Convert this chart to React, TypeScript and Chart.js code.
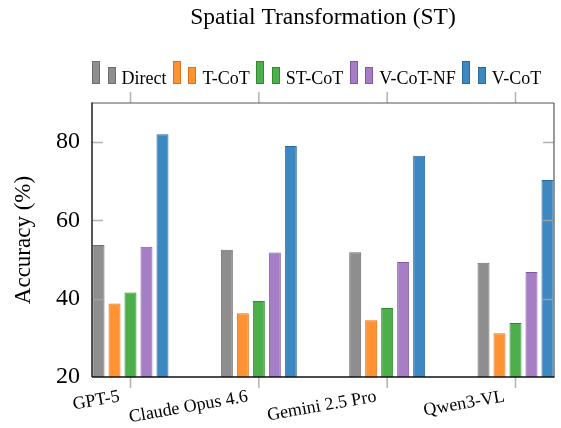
import React, { useEffect, useRef } from 'react';
import { Chart, registerables } from 'chart.js';

Chart.register(...registerables);

const categories = ['GPT-5', 'Claude Opus 4.6', 'Gemini 2.5 Pro', 'Qwen3-VL'];
const seriesNames = ['Direct', 'T-CoT', 'ST-CoT', 'V-CoT-NF', 'V-CoT'];
const direct = [53.7, 52.5, 51.9, 49.2];
const tCoT = [38.8, 36.3, 34.5, 31.2];
const stCoT = [41.6, 39.4, 37.6, 33.8];
const vCoTNF = [53.3, 51.8, 49.4, 46.8];
const vCoT = [82.0, 79.0, 76.5, 70.3];
const yTicks = [20, 40, 60, 80];
const yMin = 20;
const yMax = 90;
const titleText = 'Spatial Transformation (ST)';
const yTitle = 'Accuracy (%)';

const fills = ['#8e8e8e', '#ff9233', '#4caf4c', '#a67ec6', '#3d88c0'];
const borders = ['#6e6e6e', '#e07012', '#2e8b2e', '#7f57a3', '#2a6a9e'];

const FONT = "'Liberation Serif', 'Times New Roman', serif";

const framePlugin = {
  id: 'frame',
  afterDatasetsDraw(chart: any) {
    const { ctx, chartArea: a, scales } = chart;
    const x = scales.x;
    const y = scales.y;
    const line = (x1: number, y1: number, x2: number, y2: number) => {
      ctx.beginPath();
      ctx.moveTo(x1, y1);
      ctx.lineTo(x2, y2);
      ctx.stroke();
    };
    ctx.save();
    ctx.strokeStyle = 'rgba(165,165,165,0.85)';
    ctx.lineWidth = 1.5;
    yTicks.forEach((v) => {
      if (v === yMin) return;
      const py = Math.round(y.getPixelForValue(v)) + 0.5;
      line(a.left, py, a.left + 11, py);
      line(a.right, py, a.right - 11, py);
    });
    categories.forEach((_, i) => {
      const px = x.getPixelForValue(i);
      line(px, a.bottom, px, a.bottom + 11);
      line(px, a.top, px, a.top - 11);
    });
    // frame
    ctx.lineWidth = 1.2;
    ctx.strokeStyle = '#555';
    line(a.left, a.top, a.right, a.top);
    line(a.right, a.top, a.right, a.bottom);
    ctx.strokeStyle = '#111';
    ctx.lineWidth = 1.4;
    line(a.left, a.top - 0.5, a.left, a.bottom);
    line(a.left, a.bottom, a.right + 0.5, a.bottom);
    ctx.restore();
  },
};

const legendPlugin = {
  id: 'barLegend',
  afterDraw(chart: any) {
    const { ctx, chartArea: a } = chart;
    ctx.save();
    ctx.font = `18px ${FONT}`;
    ctx.textBaseline = 'alphabetic';
    ctx.textAlign = 'left';
    const base = 84;
    let xPos = a.left;
    const drawBar = (bx: number, by: number, w: number, h: number, i: number) => {
      ctx.fillStyle = fills[i];
      ctx.fillRect(bx, by, w, h);
      ctx.strokeStyle = borders[i];
      ctx.lineWidth = 1;
      ctx.strokeRect(bx + 0.5, by + 0.5, w - 1, h - 1);
    };
    chart.data.datasets.forEach((ds: any, i: number) => {
      drawBar(Math.round(xPos), base - 23, 8, 23, i);
      drawBar(Math.round(xPos + 15.5), base - 17, 8, 17, i);
      xPos += 23.5 + 6;
      ctx.fillStyle = '#000';
      ctx.fillText(ds.label, xPos, base);
      xPos += ctx.measureText(ds.label).width + 6.5;
    });
    ctx.restore();
  },
};

export default function App() {
  const ref = useRef<HTMLCanvasElement>(null);
  useEffect(() => {
    const seriesValues = [direct, tCoT, stCoT, vCoTNF, vCoT];
    const chart = new Chart(ref.current as HTMLCanvasElement, {
      type: 'bar',
      data: {
        datasets: seriesNames.map((name, i) => ({
          label: name,
          data: seriesValues[i].map((v, j) => ({ x: j, y: v })),
          backgroundColor: fills[i],
          borderColor: borders[i],
          borderWidth: 1,
          categoryPercentage: 0.623,
          barPercentage: 0.75,
        })),
      },
      options: {
        animation: false,
        responsive: false,
        devicePixelRatio: 1,
        layout: { padding: { left: 0, right: 7, top: 0, bottom: 0 } },
        plugins: {
          legend: { display: false },
          tooltip: { enabled: false },
          title: {
            display: true,
            text: titleText,
            fullSize: false,
            color: '#000',
            font: { family: FONT, size: 23.5, weight: 'normal' },
            padding: { top: 4, bottom: 70.8 },
          },
        },
        scales: {
          x: {
            type: 'linear',
            min: -0.3,
            max: 3.3,
            offset: false,
            grid: { display: false, drawTicks: false, offset: false },
            border: { display: false },
            afterBuildTicks: (scale: any) => {
              scale.ticks = categories.map((_, i) => ({ value: i }));
            },
            afterFit: (scale: any) => {
              scale.height = 51;
            },
            ticks: {
              autoSkip: false,
              minRotation: 10,
              maxRotation: 10,
              padding: 9,
              labelOffset: -11,
              color: '#000',
              font: { family: FONT, size: 18 },
              callback: (value: any) => categories[Math.round(Number(value))] ?? '',
            },
          },
          y: {
            type: 'linear',
            min: yMin,
            max: yMax,
            grid: { display: false, drawTicks: false },
            border: { display: false },
            afterBuildTicks: (scale: any) => {
              scale.ticks = yTicks.map((v) => ({ value: v }));
            },
            afterFit: (scale: any) => {
              scale.width = 92;
            },
            ticks: {
              padding: 12,
              color: '#000',
              font: { family: FONT, size: 24 },
            },
            title: {
              display: true,
              text: yTitle,
              color: '#000',
              font: { family: FONT, size: 23 },
              padding: { top: 10, bottom: 0 },
            },
          },
        },
      } as any,
      plugins: [framePlugin, legendPlugin],
    });
    return () => chart.destroy();
  }, []);
  return (
    <div style={{ position: 'fixed', left: 0, top: 0, width: 561, height: 428, background: '#fff' }}>
      <canvas ref={ref} width={561} height={428} style={{ display: 'block', width: 561, height: 428 }} />
    </div>
  );
}
